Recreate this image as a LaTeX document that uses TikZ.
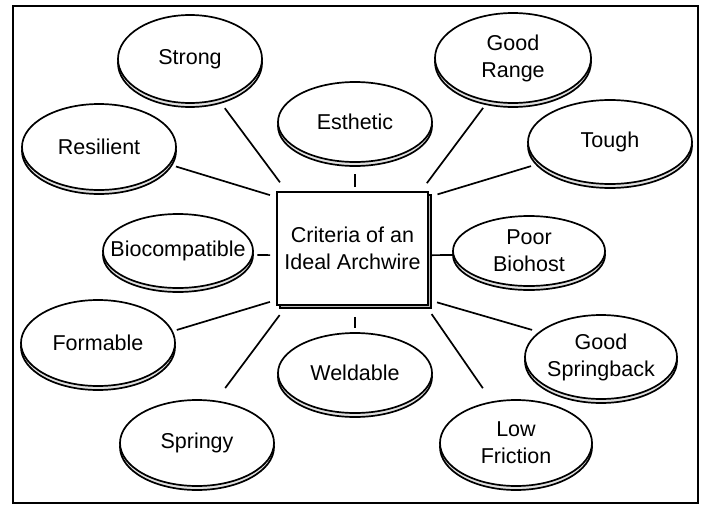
\documentclass[tikz,border=0pt]{standalone}
\usepackage{fontspec}
\setmainfont{Liberation Sans}
\usetikzlibrary{shapes.geometric,shadows}

\begin{document}
\begin{tikzpicture}[x=1pt,y=-1pt,
	trait/.style={ellipse, draw, fill=white, line width=1.7pt, align=center,
		inner xsep=-30pt, inner ysep=-15pt, font=\fontsize{21.5}{27}\selectfont,
		copy shadow={shadow xshift=0pt, shadow yshift=-4pt, fill=gray!25, draw=black, line width=1.7pt}},
	hub/.style={rectangle, draw, fill=white, line width=1.7pt, align=center,
		minimum width=151pt, minimum height=113pt, font=\fontsize{21.5}{27}\selectfont,
		copy shadow={shadow xshift=3pt, shadow yshift=-3pt, fill=gray!50, draw=black, line width=1.7pt}},
	link/.style={line width=1.7pt}]
	\useasboundingbox (0,0) rectangle (706,506);
	\draw[line width=2.5pt] (13,6) rectangle (698,503);

	\node[hub] (crit) at (352.5,248.5) {Criteria of an\\Ideal Archwire};

	\node[trait, minimum width=144pt, minimum height=88pt] (strong) at (190,59) {Strong};
	\node[trait, minimum width=154pt, minimum height=86pt] (resil) at (99,147) {Resilient};
	\node[trait, minimum width=154pt, minimum height=80pt] (esth) at (355,122) {Esthetic};
	\node[trait, minimum width=156pt, minimum height=90pt] (grange) at (513,58) {Good\\Range};
	\node[trait, minimum width=164pt, minimum height=84pt] (tough) at (610,142) {Tough};
	\node[trait, minimum width=150pt, minimum height=74pt] (bio) at (178,251) {Biocompatible};
	\node[trait, minimum width=152pt, minimum height=70pt] (poor) at (529,251) {Poor\\Biohost};
	\node[trait, minimum width=154pt, minimum height=86pt] (form) at (98,343) {Formable};
	\node[trait, minimum width=154pt, minimum height=80pt] (weld) at (355,373) {Weldable};
	\node[trait, minimum width=154pt, minimum height=86pt] (spring) at (197,443) {Springy};
	\node[trait, minimum width=152pt, minimum height=84pt] (sback) at (601,357) {Good\\Springback};
	\node[trait, minimum width=152pt, minimum height=86pt] (lowf) at (516,443) {Low\\Friction};

	\draw[link, shorten <=11pt, shorten >=10pt] (crit.139) -- (strong.305);
	\draw[link, shorten <=6.5pt, shorten >=6pt] (crit.146) -- (resil.346);
	\draw[link, shorten <=4pt, shorten >=11pt] (esth |- crit.north) -- (esth);
	\draw[link, shorten <=10pt, shorten >=8pt] (crit.40) -- (grange.240);
	\draw[link, shorten <=9pt, shorten >=8pt] (crit.34) -- (tough.197);
	\draw[link, shorten <=6pt, shorten >=4pt] (crit.185) -- (bio.357);
	\draw[link, shorten <=3pt] (crit.355) -- (poor.183);
	\draw[link, shorten <=6.5pt, shorten >=4pt] (crit.214) -- (form.9);
	\draw[link, shorten <=11pt, shorten >=4pt] (weld |- crit.south) -- (weld);
	\draw[link, shorten <=11.5pt, shorten >=15.5pt] (crit.221) -- (spring.66);
	\draw[link, shorten <=8.5pt, shorten >=7pt] (crit.326) -- (sback.158);
	\draw[link, shorten <=10pt, shorten >=16pt] (crit.322) -- (lowf.120);
\end{tikzpicture}
\end{document}
